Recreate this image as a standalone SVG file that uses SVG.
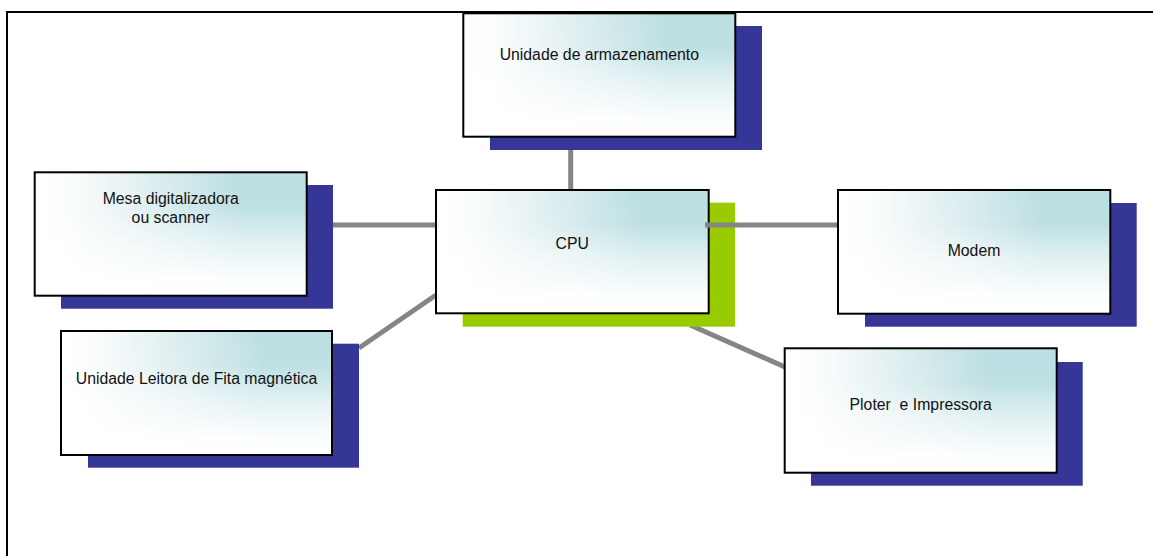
<svg xmlns="http://www.w3.org/2000/svg" width="1153" height="556" viewBox="0 0 1153 556">
<style>
.frame{fill:none;stroke:#000;stroke-width:2}
.shadow{fill:#363696}
.green{fill:#99cc00}
.fillh{fill:url(#gh)}
.fillv{fill:url(#gv)}
.box{fill:none;stroke:#000;stroke-width:2}
.conn{stroke:#858585;stroke-width:5;fill:none}
text{font-family:"Liberation Sans",Arial,sans-serif;font-size:15.8px;fill:#111;text-anchor:middle}
</style>
<defs>
<linearGradient id="gh" x1="0" y1="0" x2="1" y2="0">
<stop offset="0" stop-color="#ffffff"/>
<stop offset="0.12" stop-color="#fbfdfd"/>
<stop offset="0.45" stop-color="#dcedef"/>
<stop offset="0.75" stop-color="#bbdfe2"/>
<stop offset="1" stop-color="#bbdfe2"/>
</linearGradient>
<linearGradient id="gv" x1="0" y1="0" x2="0" y2="1">
<stop offset="0" stop-color="#ffffff" stop-opacity="0"/>
<stop offset="0.28" stop-color="#ffffff" stop-opacity="0.05"/>
<stop offset="0.55" stop-color="#ffffff" stop-opacity="0.55"/>
<stop offset="0.85" stop-color="#ffffff" stop-opacity="0.95"/>
<stop offset="1" stop-color="#ffffff" stop-opacity="1"/>
</linearGradient>
</defs>
<path class="frame" d="M7,556 V12 H1153"/>
<g id="connectors">
<line class="conn" x1="570.7" y1="150" x2="570.7" y2="190"/>
<line class="conn" x1="333" y1="225" x2="436" y2="225"/>
<line class="conn" x1="359" y1="348" x2="436" y2="295"/>
<line class="conn" x1="690" y1="325" x2="785" y2="367"/>
</g>
<g id="storage">
<rect class="shadow" x="490" y="26" width="272" height="124"/>
<rect class="fillh" x="463.3" y="13.3" width="272" height="123.4"/>
<rect class="fillv" x="463.3" y="13.3" width="272" height="123.4"/>
<rect class="box" x="463.3" y="13.3" width="272" height="123.4"/>
<text x="599.3" y="60">Unidade de armazenamento</text>
</g>
<g id="cpu">
<rect class="green" x="462.7" y="202.7" width="272.3" height="124"/>
<rect class="fillh" x="436" y="190" width="272.7" height="123.3"/>
<rect class="fillv" x="436" y="190" width="272.7" height="123.3"/>
<rect class="box" x="436" y="190" width="272.7" height="123.3"/>
<text x="572.3" y="249.3">CPU</text>
</g>
<g id="connectors-top">
<line class="conn" x1="705" y1="225" x2="840.7" y2="225"/>
</g>
<g id="scanner">
<rect class="shadow" x="61" y="185" width="272" height="123.7"/>
<rect class="fillh" x="34.7" y="172.3" width="272" height="123.4"/>
<rect class="fillv" x="34.7" y="172.3" width="272" height="123.4"/>
<rect class="box" x="34.7" y="172.3" width="272" height="123.4"/>
<text x="170.7" y="204.3">Mesa digitalizadora</text>
<text x="170.7" y="223.3">ou scanner</text>
</g>
<g id="tape">
<rect class="shadow" x="88" y="343.7" width="271" height="124"/>
<rect class="fillh" x="61" y="331" width="271" height="124"/>
<rect class="fillv" x="61" y="331" width="271" height="124"/>
<rect class="box" x="61" y="331" width="271" height="124"/>
<text x="196.5" y="384.3">Unidade Leitora de Fita magnética</text>
</g>
<g id="modem">
<rect class="shadow" x="865" y="203" width="271.7" height="123.7"/>
<rect class="fillh" x="838" y="190" width="272.3" height="123.7"/>
<rect class="fillv" x="838" y="190" width="272.3" height="123.7"/>
<rect class="box" x="838" y="190" width="272.3" height="123.7"/>
<text x="974" y="255.7">Modem</text>
</g>
<g id="printer">
<rect class="shadow" x="811" y="362" width="271.7" height="123.7"/>
<rect class="fillh" x="784.7" y="348.3" width="272" height="124.4"/>
<rect class="fillv" x="784.7" y="348.3" width="272" height="124.4"/>
<rect class="box" x="784.7" y="348.3" width="272" height="124.4"/>
<text x="920.7" y="410" xml:space="preserve">Ploter  e Impressora</text>
</g>
</svg>
